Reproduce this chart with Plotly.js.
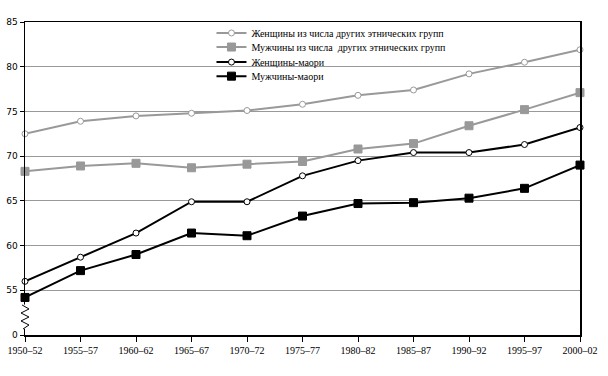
<!DOCTYPE html>
<html><head><meta charset="utf-8">
<script src="https://cdn.plot.ly/plotly-3.0.1.min.js"></script>
<style>body{margin:0;background:#fff}#c{width:608px;height:376px}</style>
</head><body><div id="c"></div>
<script>
const periods = ["1950–52","1955–57","1960–62","1965–67","1970–72","1975–77","1980–82","1985–87","1990–92","1995–97","2000–02"];
const womenOther = [72.5,73.9,74.5,74.8,75.1,75.8,76.8,77.4,79.2,80.5,81.9];
const menOther   = [68.3,68.9,69.2,68.7,69.1,69.4,70.8,71.4,73.4,75.2,77.1];
const womenMaori = [56.0,58.7,61.4,64.9,64.9,67.8,69.5,70.4,70.4,71.3,73.2];
const menMaori   = [54.2,57.2,59.0,61.4,61.1,63.3,64.7,64.8,65.3,66.4,69.0];
const names = ["Женщины из числа других этнических групп","Мужчины из числа  других этнических групп","Женщины-маори","Мужчины-маори"];
const yTickVals = [50,55,60,65,70,75,80,85];
const yTickText = ["0","55","60","65","70","75","80","85"];

const x = periods.map((p,i)=>i);
function tr(y,name,color,symbol,size,leg){
  return {x:x,y:y,name:name,type:'scatter',mode:'lines+markers',cliponaxis:false,legend:leg,
    line:{color:color,width:2},
    marker:{symbol:symbol,size:size,color:symbol==='circle'?'#fff':color,
      line:{color:color,width:1}}};
}
const data=[
  tr(womenOther,names[0],'#999999','circle',6,'legend'),
  tr(menOther,names[1],'#999999','square',8,'legend2'),
  tr(womenMaori,names[2],'#000000','circle',6,'legend3'),
  tr(menMaori,names[3],'#000000','square',8,'legend4')
];
const legFont={family:'Liberation Serif',size:10,color:'#000'};
function leg(y){return {x:0.336,y:y,xanchor:'left',yanchor:'middle',bgcolor:'rgba(0,0,0,0)',font:legFont,itemwidth:30};}

const layout={
  width:608,height:376,
  margin:{l:25,r:28,t:22,b:41},
  paper_bgcolor:'#fff',plot_bgcolor:'#fff',
  showlegend:true,
  legend:leg(0.965),legend2:leg(0.920),legend3:leg(0.872),legend4:leg(0.827),
  xaxis:{type:'linear',range:[0,10],tickvals:x,ticktext:periods,
    showgrid:false,zeroline:false,showline:true,linecolor:'#000',linewidth:1.5,mirror:true,
    ticks:'outside',ticklen:5,tickcolor:'#000',
    tickfont:{family:'Liberation Serif',size:10,color:'#000'}},
  yaxis:{range:[50,85],tickvals:yTickVals,ticktext:yTickText,
    showgrid:true,gridcolor:'#999999',gridwidth:1,zeroline:false,
    showline:true,linecolor:'#000',linewidth:1.5,mirror:true,
    ticks:'outside',ticklen:4,tickcolor:'#000',
    tickfont:{family:'DejaVu Sans',size:9,color:'#000'}},
  shapes:[
    {type:'rect',xref:'paper',yref:'y',x0:-0.004,x1:0.004,y0:50.7,y1:53.4,line:{width:0},fillcolor:'#fff',layer:'above'},
    {type:'path',xref:'paper',yref:'y',
    path:'M -0.0054,53.36 L 0.0072,52.91 L -0.0072,52.46 L 0.0072,52.01 L -0.0072,51.57 L 0.0072,51.12 L -0.0036,50.67',
    line:{color:'#000',width:1}}]
};
Plotly.newPlot('c',data,layout,{displayModeBar:false,staticPlot:true});
</script></body></html>
